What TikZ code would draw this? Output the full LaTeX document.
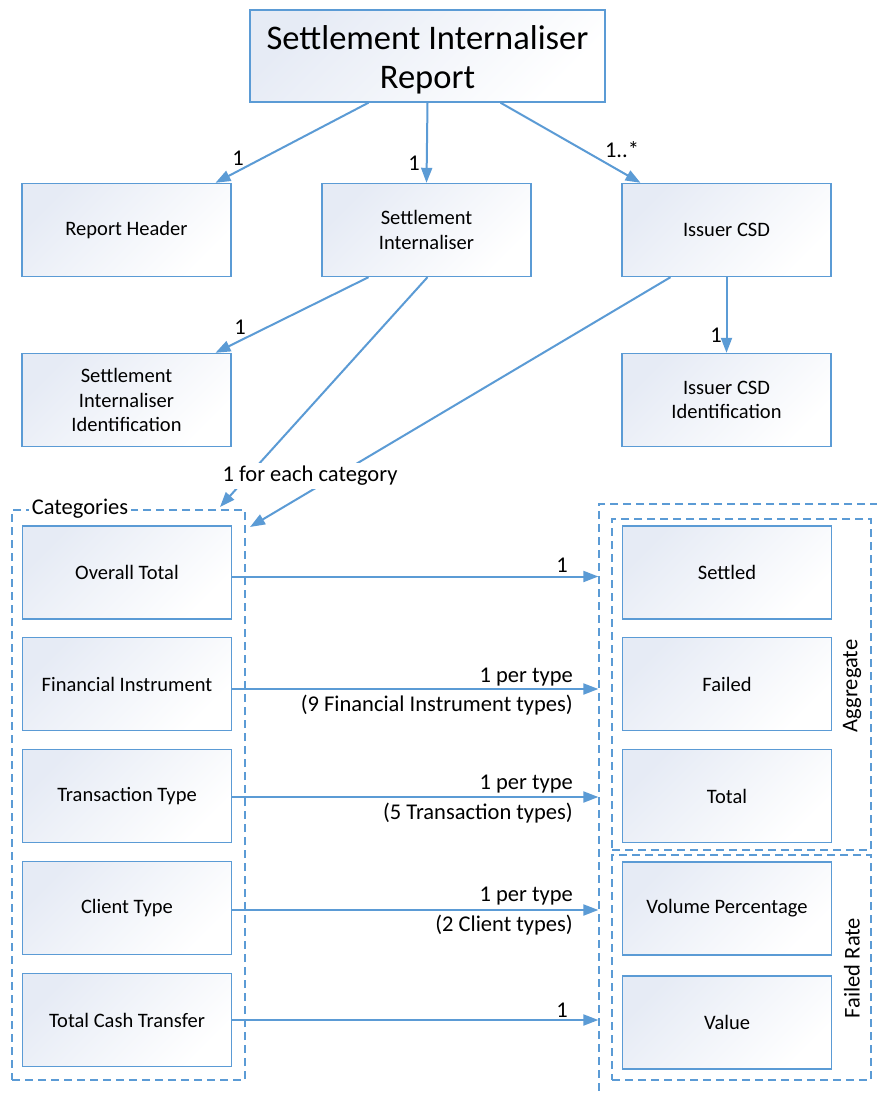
\documentclass[tikz,border=0pt]{standalone}
\usepackage{fontspec}
\setmainfont{Carlito}
\usetikzlibrary{arrows.meta,calc}
\definecolor{lblue}{HTML}{5B9BD5}
\definecolor{fillblue}{HTML}{E6EBF5}
\tikzset{
  box/.style={draw=lblue, line width=1.4pt, top color=fillblue, bottom color=white, shading angle=45,
    minimum width=209pt, minimum height=93pt, align=center, font=\fontsize{20.5}{24.5}\selectfont, inner sep=2pt},
  grp/.style={draw=lblue, line width=1.3pt, dash pattern=on 8pt off 5pt},
  conn/.style={draw=lblue, line width=2pt, -{Triangle[length=15pt,width=11pt]}},
  lab/.style={font=\fontsize{22.5}{26}\selectfont, inner sep=1pt},
}
\begin{document}
\begin{tikzpicture}[x=1pt,y=-1pt]
\useasboundingbox (0,0) rectangle (877,1095);
\clip (0,0) rectangle (877,1095);
\fill[white] (0,0) rectangle (877,1095);
% group frames
\node[grp, minimum width=306pt, minimum height=616pt, inner sep=0pt] (outer) at (752,812) {};
\node[grp, minimum width=233pt, minimum height=570pt, inner sep=0pt] (cat) at (128.5,795) {};
\node[grp, minimum width=259pt, minimum height=331pt, inner sep=0pt] (agg) at (741.5,684.5) {};
\node[grp, minimum width=259pt, minimum height=225pt, inner sep=0pt] (fr) at (741.5,967.5) {};
\node[fill=white, lab, inner sep=3pt] (catlab) at (80,509) {Categories};
\node[lab, rotate=90] (agglab) at (852,686) {Aggregate};
\node[lab, rotate=90] (frlab) at (852,968) {Failed Rate};
% boxes
\node[box, minimum width=355pt, minimum height=92pt, font=\fontsize{34.5}{39}\selectfont] (title) at (427.5,56) {\rule{0pt}{32pt}Settlement Internaliser\\Report};
\node[box] (rh) at (126.5,230) {Report Header};
\node[box] (si) at (426.5,230) {Settlement\\Internaliser};
\node[box] (icsd) at (726.5,230) {Issuer CSD};
\node[box] (siid) at (126.5,400) {Settlement\\Internaliser\\Identification};
\node[box] (icsdid) at (726.5,400) {Issuer CSD\\Identification};
\node[box] (ot) at (127,572.5) {Overall Total};
\node[box] (fi) at (127,684) {Financial Instrument};
\node[box] (tt) at (127,796) {Transaction Type};
\node[box] (ct) at (127,908) {Client Type};
\node[box] (tct) at (127,1020) {Total Cash Transfer};
\node[box] (settled) at (727,572.5) {Settled};
\node[box] (failed) at (727,684) {Failed};
\node[box] (total) at (727,796) {Total};
\node[box] (vp) at (727,908.5) {Volume Percentage};
\node[box] (val) at (727,1022.5) {Value};
% top connectors
\draw[conn] ([xshift=-59pt]title.south) -- ([xshift=89pt]rh.north);
\draw[conn] (title.south) -- (si.north);
\draw[conn] ([xshift=73pt]title.south) -- ([xshift=-86pt]icsd.north);
\node[lab] (l1) at (238,158) {1};
\node[lab] (l2) at (414,163) {1};
\node[lab] (l3) at (622,150) {1..*};
\draw[conn] ([xshift=-58pt]si.south) -- ([xshift=89pt]siid.north);
\node[lab] (l4) at (240,327) {1};
\draw[conn] (icsd.south -| icsdid.north) -- (icsdid.north);
\node[lab] (l5) at (716,335) {1};
\coordinate (catend1) at (220,507);
\coordinate (catend2) at (250,527);
\draw[conn] ([xshift=1pt]si.south) -- (catend1);
\draw[conn] ([xshift=-56pt]icsd.south) -- (catend2);
\node[lab, fill=white, inner sep=3pt] (l6) at (310,476) {1 for each category};
% category connectors
\draw[conn] ([yshift=-4pt]ot.east) -- ([yshift=-4pt]ot.east -| outer.west);
\node[lab] (l7) at (562,565) {1};
\draw[conn] ([yshift=-5pt]fi.east) -- ([yshift=-5pt]fi.east -| outer.west);
\node[lab, anchor=east] (l8a) at (574,677) {1 per type};
\node[lab, anchor=east] (l8b) at (574,705) {(9 Financial Instrument types)};
\draw[conn] ([yshift=-1pt]tt.east) -- ([yshift=-1pt]tt.east -| outer.west);
\node[lab, anchor=east] (l9a) at (574,784) {1 per type};
\node[lab, anchor=east] (l9b) at (574,813) {(5 Transaction types)};
\draw[conn] ([yshift=-2pt]ct.east) -- ([yshift=-2pt]ct.east -| outer.west);
\node[lab, anchor=east] (l10a) at (574,896) {1 per type};
\node[lab, anchor=east] (l10b) at (574,925) {(2 Client types)};
\draw[conn] ([yshift=0pt]tct.east) -- ([yshift=0pt]tct.east -| outer.west);
\node[lab] (l11) at (562,1010) {1};
\end{tikzpicture}
\end{document}
